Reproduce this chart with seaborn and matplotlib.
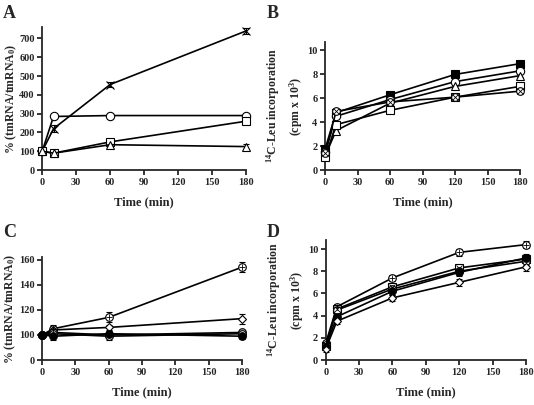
import matplotlib
matplotlib.use("Agg")
import matplotlib.pyplot as plt
import seaborn as sns

# =========================================
# Data
# =========================================

time_4 = [0, 10, 60, 180]
time_5 = [0, 10, 60, 120, 180]

# panel A: % (tmRNA/tmRNA0)
a_cross = [100, 220, 455, 740]
a_circle = [100, 285, 290, 290]
a_square = [100, 90, 150, 260]
a_triangle = [100, 90, 135, 125]
a_err = [[4, 20, 15, 15], [5, 8, 10, 10], [5, 6, 10, 10], [5, 6, 8, 12]]

# panel B: 14C-Leu incorporation
b_filled_sq = [1.8, 4.8, 6.3, 8.0, 8.9]
b_circle = [1.5, 4.5, 5.9, 7.4, 8.3]
b_triangle = [1.2, 3.3, 5.6, 7.0, 7.9]
b_square = [1.1, 3.8, 5.0, 6.1, 7.0]
b_otimes = [1.4, 4.9, 5.7, 6.1, 6.6]

# panel C: % (tmRNA/tmRNA0), axis is broken below 100
c_oplus = [100, 105, 114, 154]
c_diamond = [100, 104, 106, 113]
c_grey = [100, 102, 100, 102]
c_circle = [100, 101, 99, 101]
c_filled = [100, 99, 101, 99]
c_err = [[1, 3, 4, 4], [1, 3, 2, 4], [1, 2, 2, 2], [1, 2, 3, 2], [1, 3, 2, 2]]
c_tick_pos = [80, 100, 120, 140, 160]
c_tick_lab = ["0", "100", "120", "140", "160"]

# panel D: 14C-Leu incorporation
d_oplus = [1.5, 4.8, 7.4, 9.7, 10.4]
d_boxx = [1.3, 4.6, 6.6, 8.3, 9.1]
d_circle = [1.4, 4.5, 6.4, 8.0, 8.9]
d_filled = [1.2, 3.9, 6.2, 7.9, 9.2]
d_diamond = [1.0, 3.5, 5.6, 7.0, 8.4]
d_err = [0.25, 0.25, 0.3, 0.3, 0.35]

# =========================================
# Style
# =========================================

sns.set_style("ticks")
plt.rcParams["font.family"] = ["Liberation Serif", "DejaVu Serif"]
plt.rcParams["font.weight"] = "bold"
plt.rcParams["mathtext.default"] = "regular"
plt.rcParams["axes.linewidth"] = 1.3
plt.rcParams["xtick.major.width"] = 1.3
plt.rcParams["ytick.major.width"] = 1.3
plt.rcParams["xtick.major.size"] = 3.5
plt.rcParams["ytick.major.size"] = 3.5

fig = plt.figure(figsize=(5.34, 4.05), dpi=100)

axA = fig.add_axes([0.079, 0.580, 0.382, 0.353])
axB = fig.add_axes([0.609, 0.580, 0.365, 0.316])
axC = fig.add_axes([0.079, 0.111, 0.374, 0.254])
axD = fig.add_axes([0.610, 0.111, 0.375, 0.296])


def draw(ax, x, y, err, marker, fill="white", overlay=None, ms=5.5):
    ax.errorbar(x, y, yerr=err, fmt="none", ecolor="black",
                elinewidth=0.8, capsize=2.5, capthick=0.8, zorder=2)
    sns.lineplot(x=x, y=y, ax=ax, color="black", linewidth=1.2,
                 marker=marker, markersize=ms, markerfacecolor=fill,
                 markeredgecolor="black", markeredgewidth=0.8, zorder=3)
    if overlay:
        ax.plot(x, y, linestyle="none", marker=overlay, markersize=ms * 0.85,
                color="black", markeredgewidth=0.6, zorder=4)


# panel A
draw(axA, time_4, a_cross, a_err[0], "x", ms=6)
draw(axA, time_4, a_circle, a_err[1], "o", ms=6)
draw(axA, time_4, a_square, a_err[2], "s")
draw(axA, time_4, a_triangle, a_err[3], "^")

# panel B
draw(axB, time_5, b_filled_sq, 0.15, "s", fill="black")
draw(axB, time_5, b_circle, 0.15, "o", ms=6)
draw(axB, time_5, b_triangle, 0.15, "^")
draw(axB, time_5, b_square, 0.15, "s")
draw(axB, time_5, b_otimes, 0.15, "o", overlay="x")

# panel C
draw(axC, time_4, c_oplus, c_err[0], "o", overlay="+")
draw(axC, time_4, c_diamond, c_err[1], "D", ms=4.5)
draw(axC, time_4, c_grey, c_err[2], "o", fill="#bbbbbb")
draw(axC, time_4, c_circle, c_err[3], "o")
draw(axC, time_4, c_filled, c_err[4], "o", fill="black")

# panel D
draw(axD, time_5, d_oplus, d_err, "o", overlay="+")
draw(axD, time_5, d_boxx, d_err, "s", overlay="x")
draw(axD, time_5, d_circle, d_err, "o")
draw(axD, time_5, d_filled, d_err, "o", fill="black")
draw(axD, time_5, d_diamond, d_err, "D", ms=4.5)

# =========================================
# Axes formatting
# =========================================

ylab_pct = "% (tmRNA/tmRNA$_0$)"
ylab_leu = "$^{14}$C-Leu incorporation\n(cpm x 10$^3$)"

settings = [
    (axA, (0, 760), [0, 100, 200, 300, 400, 500, 600, 700], None, ylab_pct, -0.115),
    (axB, (0, 10.7), [0, 2, 4, 6, 8, 10], None, ylab_leu, -0.105),
    (axC, (80, 162), c_tick_pos, c_tick_lab, ylab_pct, -0.12),
    (axD, (0, 10.8), [0, 2, 4, 6, 8, 10], None, ylab_leu, -0.1),
]

for ax, ylim, yticks, ylabels, ylab, lab_x in settings:
    ax.set_xlim(0, 180)
    ax.set_ylim(*ylim)
    ax.set_xticks([0, 30, 60, 90, 120, 150, 180])
    ax.set_yticks(yticks)
    if ylabels:
        ax.set_yticklabels(ylabels)
    ax.tick_params(labelsize=7.5, pad=2, direction="out")
    ax.set_xlabel("Time (min)", fontsize=9, fontweight="bold", labelpad=7)
    ax.set_ylabel(ylab, fontsize=8.5, fontweight="bold", linespacing=1.4)
    ax.yaxis.set_label_coords(lab_x, 0.5)
    sns.despine(ax=ax)
    for lab in ax.get_xticklabels() + ax.get_yticklabels():
        lab.set_fontweight("bold")
    for art in ax.lines + ax.collections:
        art.set_clip_on(False)

fig.text(0.005, 0.955, "A", fontsize=13, fontweight="bold")
fig.text(0.500, 0.955, "B", fontsize=13, fontweight="bold")
fig.text(0.005, 0.415, "C", fontsize=13, fontweight="bold")
fig.text(0.500, 0.415, "D", fontsize=13, fontweight="bold")

fig.savefig("out.png", dpi=100)
